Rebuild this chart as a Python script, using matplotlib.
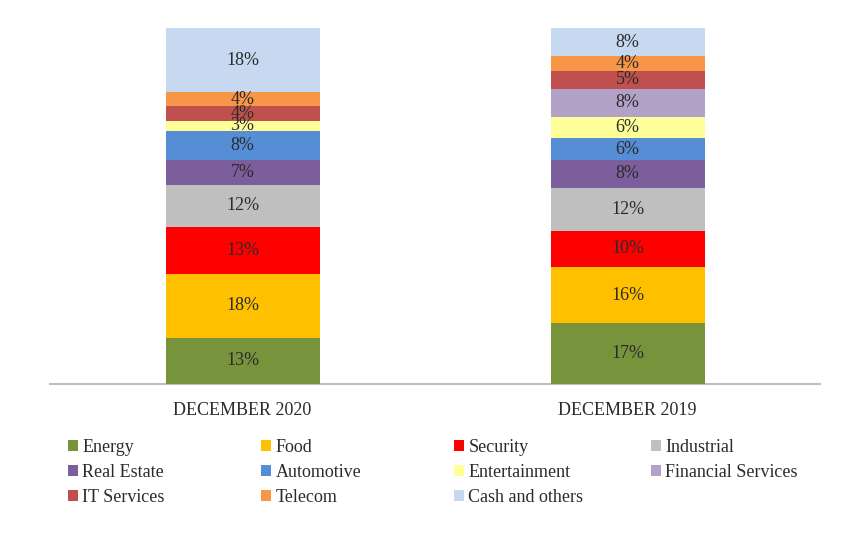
import numpy as np
import matplotlib.pyplot as plt
from matplotlib.patches import Patch

plt.rcParams['font.family'] = ['Liberation Serif', 'DejaVu Serif']

periods = ['DECEMBER 2020', 'DECEMBER 2019']
sectors = ['Energy', 'Food', 'Security', 'Industrial', 'Real Estate', 'Automotive',
           'Entertainment', 'Financial Services', 'IT Services', 'Telecom', 'Cash and others']
dec2020 = [13, 18, 13, 12, 7, 8, 3, 0, 4, 4, 18]
dec2019 = [17, 16, 10, 12, 8, 6, 6, 8, 5, 4, 8]
colors = ['#77933C', '#FFC000', '#FF0000', '#BFBFBF', '#7B5E9B', '#558ED5',
          '#FFFF99', '#B3A2C7', '#C0504D', '#F79646', '#C6D9F1']

TXT = '#2B2B2B'

fig = plt.figure(figsize=(8.68, 5.46), dpi=100)
ax = fig.add_axes([50/868, 1 - 384/546, 770/868, 356/546])

x = np.arange(len(periods))
vals = np.array([dec2020, dec2019]).T  # sectors x periods
bottom = np.zeros(len(periods))
handles = []
for name, v, c in zip(sectors, vals, colors):
    ax.bar(x, v, width=0.40, bottom=bottom, color=c, zorder=3)
    for xi, vi, bi in zip(x, v, bottom):
        if vi > 0:
            ax.text(xi, bi + vi / 2, f'{vi}%', ha='center', va='center',
                    fontsize=13, color=TXT, zorder=4)
    bottom += v
    handles.append(Patch(facecolor=c, label=name))

ax.set_xlim(-0.5, 1.5)
ax.set_ylim(0, 100)
ax.set_yticks([])
ax.set_xticks(x)
ax.set_xticklabels(periods, fontsize=13, color=TXT)
ax.tick_params(axis='x', length=0, pad=13)
for s in ['top', 'right', 'left']:
    ax.spines[s].set_visible(False)
ax.spines['bottom'].set_color('#BFBFBF')
ax.spines['bottom'].set_linewidth(1.5)

# legend: four columns placed like the original, filled row by row
col_x = [68, 261, 454, 651]
for ci, cx in enumerate(col_x):
    hs = handles[ci::4]
    fig.legend(handles=hs, loc='upper left',
               bbox_to_anchor=(cx / 868, 1 - 439 / 546),
               frameon=False, fontsize=13, labelcolor=TXT,
               handlelength=0.55, handleheight=0.55, handletextpad=0.25,
               labelspacing=0.44, borderaxespad=0, borderpad=0)

fig.savefig('out.png', dpi=100)
